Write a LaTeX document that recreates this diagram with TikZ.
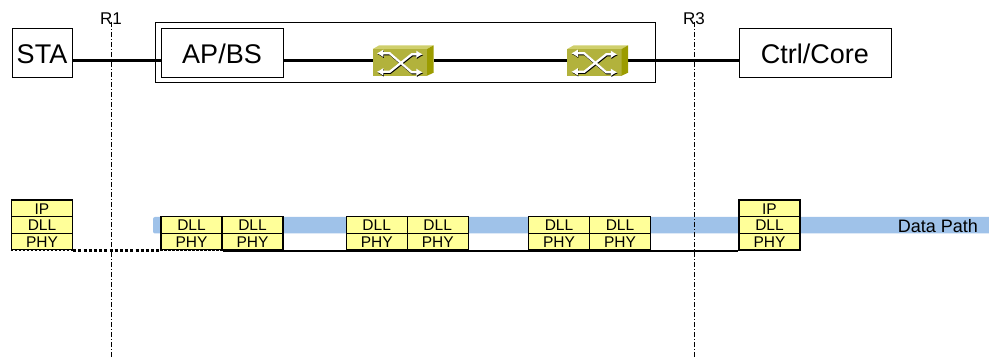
\documentclass[tikz,border=0pt]{standalone}
\usepackage{fontspec}
\setmainfont{Liberation Sans}
\usetikzlibrary{arrows.meta}
\definecolor{cellfill}{HTML}{FFFF99}
\definecolor{bandblue}{HTML}{9FC2E9}
\definecolor{swfront}{HTML}{B2B23C}
\definecolor{swtop}{HTML}{CFCF6C}
\definecolor{swside}{HTML}{9C9C00}
\tikzset{
  devbox/.style={draw=black,line width=0.9pt,fill=white,inner sep=0pt,text height=22.4pt,text depth=0pt,font=\fontsize{27}{27}\selectfont},
  cellbox/.style={draw=black,line width=1.2pt,fill=cellfill,inner sep=0pt,minimum width=61pt,minimum height=16.7pt,text height=12pt,text depth=0pt,font=\fontsize{15.5}{15.5}\selectfont},
  link/.style={draw=black,line width=2.2pt},
  refline/.style={draw=black,line width=0.9pt,dash pattern=on 5pt off 2pt on 1pt off 2pt},
  reflabel/.style={inner sep=0pt,font=\fontsize{17}{17}\selectfont},
  swnode/.style={inner sep=0pt,minimum width=60.5pt,minimum height=30pt},
  swarrow/.style={line width=2.2pt,{Latex[length=6.5pt,width=8pt]}-{Latex[length=6.5pt,width=8pt]}},
}
\newcommand{\switchicon}[1]{%
  \fill[swtop] ([shift={(0,3.7)}]#1.north west) -- ([shift={(6.5,0)}]#1.north west) -- (#1.north east) -- ([shift={(-6.5,3.7)}]#1.north east) -- cycle;
  \fill[swfront] ([shift={(0,3.7)}]#1.north west) rectangle ([shift={(-6.5,0)}]#1.south east);
  \fill[swside] ([shift={(-6.5,3.7)}]#1.north east) -- (#1.north east) -- ([shift={(0,-3)}]#1.south east) -- ([shift={(-6.5,0)}]#1.south east) -- cycle;
  \begin{scope}[shift={(#1.north west)}]
    \begin{scope}[shift={(0.6,1)}]
      \draw[swarrow,black] (4,8) -- (17,8) -- (39,27) -- (50,27);
      \draw[swarrow,black] (4,26.5) -- (17,26.5) -- (39,9) -- (50,9);
    \end{scope}
    \draw[swarrow,white] (4,8) -- (17,8) -- (39,27) -- (50,27);
    \draw[swarrow,white] (4,26.5) -- (17,26.5) -- (39,9) -- (50,9);
  \end{scope}
}
\begin{document}
\begin{tikzpicture}[x=1pt,y=-1pt]
\useasboundingbox (0,0) rectangle (989,358);
% reference lines
\coordinate (r1top) at (111,22);
\coordinate (r1bot) at (111,358);
\coordinate (r3top) at (694,22);
\coordinate (r3bot) at (694,358);
% data path band
\fill[bandblue,rounded corners=2pt] (153,217) rectangle (1000,233.5);
% outer box
\node[draw=black,line width=0.9pt,inner sep=0pt,minimum width=500pt,minimum height=60pt] (outer) at (405,52) {};
% devices
\node[devbox,minimum width=60pt,minimum height=49pt] (sta) at (42,52.5) {STA};
\node[devbox,minimum width=122pt,minimum height=49pt] (ap) at (222,52.5) {AP/BS};
\node[devbox,minimum width=152pt,minimum height=49pt] (core) at (815,52.5) {Ctrl/Core};
\node[swnode] (sw1) at (403.2,60.5) {};
\node[swnode] (sw2) at (597.7,60.5) {};
% links
\draw[link] ([yshift=-8pt]sta.east) -- ([yshift=-8pt]ap.west);
\draw[link] ([yshift=-8pt]ap.east) -- (sw1.west);
\draw[link] (sw1.east) -- (sw2.west);
\draw[link] (sw2.east) -- ([yshift=-8pt]core.west);
\switchicon{sw1}
\switchicon{sw2}
% protocol stacks
\node[cellbox] (ip0) at (42,208.3) {IP};
\node[cellbox] (dll0) at (42,225) {DLL};
\node[cellbox] (phy0) at (42,241.7) {PHY};
\node[cellbox] (dll1) at (191.5,225) {DLL};
\node[cellbox] (phy1) at (191.5,241.7) {PHY};
\node[cellbox] (dll2) at (252.5,225) {DLL};
\node[cellbox] (phy2) at (252.5,241.7) {PHY};
\node[cellbox] (dll3) at (376.7,225) {DLL};
\node[cellbox] (phy3) at (376.7,241.7) {PHY};
\node[cellbox] (dll4) at (437.7,225) {DLL};
\node[cellbox] (phy4) at (437.7,241.7) {PHY};
\node[cellbox] (dll5) at (559,225) {DLL};
\node[cellbox] (phy5) at (559,241.7) {PHY};
\node[cellbox] (dll6) at (620,225) {DLL};
\node[cellbox] (phy6) at (620,241.7) {PHY};
\node[cellbox] (ip7) at (769.5,208.3) {IP};
\node[cellbox] (dll7) at (769.5,225) {DLL};
\node[cellbox] (phy7) at (769.5,241.7) {PHY};
% physical links
\draw[line width=1.2pt,white] (phy0.south west) -- (phy0.south east);
\draw[line width=1.2pt,white] (phy1.south west) -- (phy1.south east);
\draw[link,line width=1.2pt,dash pattern=on 2.5pt off 1.5pt] (phy0.south west) -- (phy0.south east);
\draw[link,line width=3pt,dash pattern=on 3pt off 2.2pt] (phy0.south east) -- (phy1.south west);
\draw[link,line width=1.2pt,dash pattern=on 2.5pt off 1.5pt] (phy1.south west) -- (phy1.south east);
\draw[link] (phy1.south east) -- (phy7.south west);
% reference lines on top
\draw[refline] (r1top) -- (r1bot);
\draw[refline] (r3top) -- (r3bot);
\node[reflabel] (r1) at (111,19) {R1};
\node[reflabel] (r3) at (694,19) {R3};
\node[inner sep=0pt,font=\fontsize{18}{18}\selectfont,anchor=east] (dp) at (978,226.5) {Data Path};
\end{tikzpicture}
\end{document}
